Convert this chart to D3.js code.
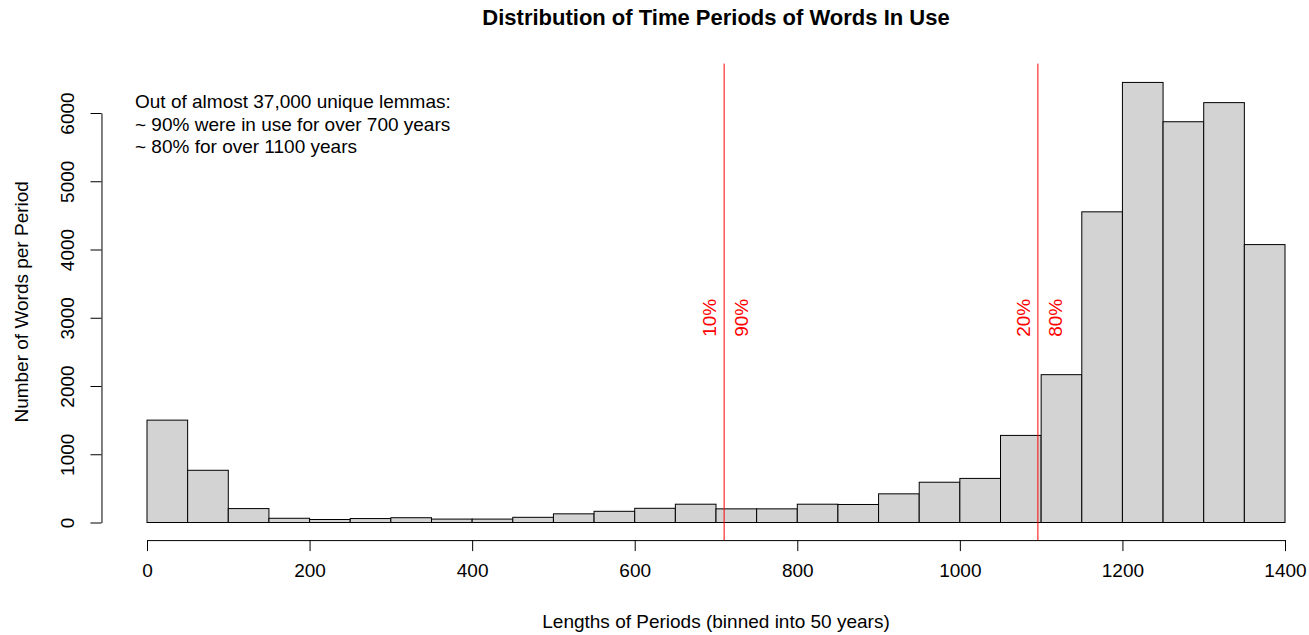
<!DOCTYPE html>
<html>
<head>
<meta charset="utf-8">
<script src="https://cdn.jsdelivr.net/npm/d3@7"></script>
<style>
  body { margin: 0; background: #fff; }
  svg { font-family: "Liberation Sans", Helvetica, Arial, sans-serif; }
</style>
</head>
<body>
<svg width="1309" height="635"></svg>
<script>
// histogram bins, 50 years wide
var binStarts = [0, 50, 100, 150, 200, 250, 300, 350, 400, 450, 500, 550, 600, 650,
    700, 750, 800, 850, 900, 950, 1000, 1050, 1100, 1150, 1200, 1250, 1300, 1350];
var counts = [1500, 765, 204, 62, 44, 58, 70, 50, 50, 76, 127, 164, 208, 268,
    200, 200, 268, 264, 420, 590, 646, 1276, 2166, 4552, 6448, 5872, 6152, 4072];
var binWidth = 50;

var xTicks = [0, 200, 400, 600, 800, 1000, 1200, 1400];
var yTicks = [0, 1000, 2000, 3000, 4000, 5000, 6000];

// cut points: 10% / 90% and 20% / 80%
var cuts = [710, 1096];
var cutLabels = [["10%", "90%"], ["20%", "80%"]];

var notes = [
    "Out of almost 37,000 unique lemmas:",
    "~ 90% were in use for over 700 years",
    "~ 80% for over 1100 years"
];

var svg = d3.select("svg"),
    width = +svg.attr("width"),
    height = +svg.attr("height");

var fontSize = "19px";

var x = d3.scaleLinear()
    .domain([0, 1400])
    .range([147, 1285]);

var y = d3.scaleLinear()
    .domain([0, 6000])
    .range([522.5, 113]);

// plot region (R style, 4% padding)
var plotTop = y(6724), plotBottom = y(-258);
var plotLeft = x(-56), plotRight = x(1456);

svg.append("g")
    .selectAll("rect")
    .data(counts)
    .join("rect")
    .attr("x", (d, i) => x(binStarts[i]))
    .attr("width", (d, i) => x(binStarts[i] + binWidth) - x(binStarts[i]))
    .attr("y", d => y(d))
    .attr("height", d => y(0) - y(d))
    .attr("fill", "#d3d3d3")
    .attr("stroke", "#000")
    .attr("stroke-width", 1);

// axes
var xAxis = d3.axisBottom(x)
    .tickValues(xTicks)
    .tickFormat(d3.format("d"))
    .tickSizeInner(11)
    .tickSizeOuter(0)
    .tickPadding(12);

var gX = svg.append("g")
    .attr("transform", "translate(0," + plotBottom + ")")
    .call(xAxis);

var yAxis = d3.axisLeft(y)
    .tickValues(yTicks)
    .tickFormat(d3.format("d"))
    .tickSizeInner(11)
    .tickSizeOuter(0)
    .tickPadding(0);

var gY = svg.append("g")
    .attr("transform", "translate(" + plotLeft + ",0)")
    .call(yAxis);

[gX, gY].forEach(g => {
    g.selectAll("path, line").attr("stroke", "#000");
    g.selectAll("text")
        .attr("fill", "#000")
        .style("font-size", fontSize)
        .style("font-family", "'Liberation Sans', Helvetica, Arial, sans-serif");
});

gY.selectAll(".tick text")
    .attr("x", 0)
    .attr("dy", 0)
    .attr("text-anchor", "middle")
    .attr("transform", "translate(-27,0) rotate(-90)");

// cut lines and labels
var gCut = svg.append("g");
cuts.forEach((c, i) => {
    gCut.append("line")
        .attr("x1", x(c)).attr("x2", x(c))
        .attr("y1", plotTop).attr("y2", plotBottom)
        .attr("stroke", "#ff0000")
        .attr("stroke-width", 1);
    gCut.append("text")
        .attr("transform", "translate(" + (x(c) - 8) + "," + y(3000) + ") rotate(-90)")
        .attr("text-anchor", "middle")
        .attr("fill", "#ff0000")
        .style("font-size", fontSize)
        .text(cutLabels[i][0]);
    gCut.append("text")
        .attr("transform", "translate(" + (x(c) + 24) + "," + y(3000) + ") rotate(-90)")
        .attr("text-anchor", "middle")
        .attr("fill", "#ff0000")
        .style("font-size", fontSize)
        .text(cutLabels[i][1]);
});

// note in the corner
svg.append("g")
    .selectAll("text")
    .data(notes)
    .join("text")
    .attr("x", 135)
    .attr("y", (d, i) => 108 + i * 22.5)
    .style("font-size", fontSize)
    .text(d => d);

// titles
var midX = (plotLeft + plotRight) / 2;

svg.append("text")
    .attr("x", midX)
    .attr("y", 25)
    .attr("text-anchor", "middle")
    .style("font-size", "22px")
    .style("font-weight", "bold")
    .text("Distribution of Time Periods of Words In Use");

svg.append("text")
    .attr("x", midX)
    .attr("y", 628)
    .attr("text-anchor", "middle")
    .style("font-size", fontSize)
    .text("Lengths of Periods (binned into 50 years)");

svg.append("text")
    .attr("transform", "translate(28," + (plotTop + plotBottom) / 2 + ") rotate(-90)")
    .attr("text-anchor", "middle")
    .style("font-size", fontSize)
    .text("Number of Words per Period");
</script>
</body>
</html>
